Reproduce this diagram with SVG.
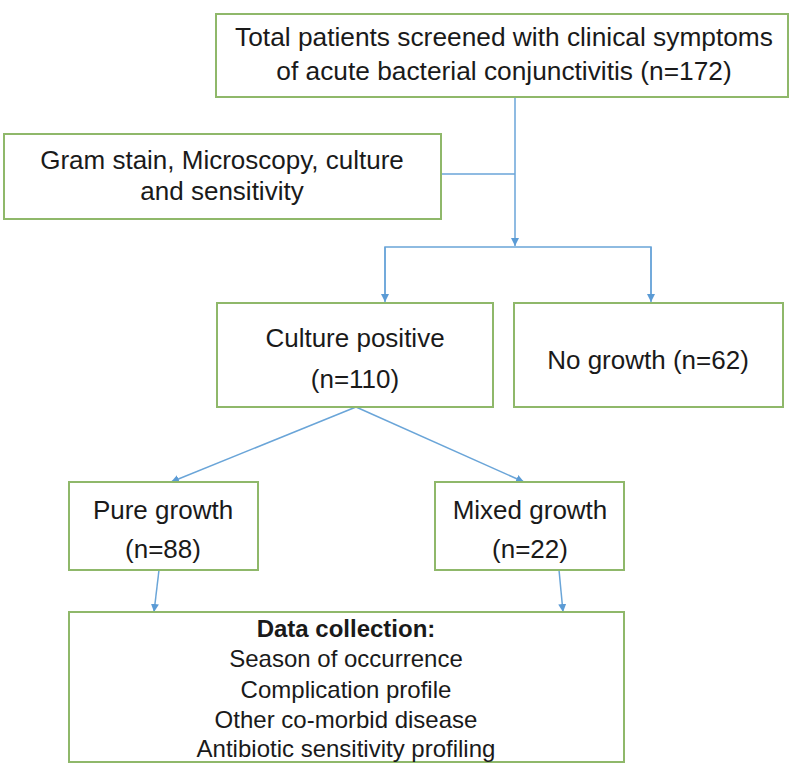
<svg xmlns="http://www.w3.org/2000/svg" width="800" height="776" viewBox="0 0 800 776">
<defs>
<style>
.box{fill:#fff;stroke:#8fb86a;stroke-width:2}
.t{font-family:"Liberation Sans",Arial,sans-serif;font-size:26px;fill:#1a1a1a;text-anchor:middle}
.s{font-family:"Liberation Sans",Arial,sans-serif;font-size:24px;fill:#1a1a1a;text-anchor:middle}
.b{font-weight:bold}
.ln{fill:none;stroke:#6aa5d8;stroke-width:1.5}
</style>
<marker id="ah" viewBox="0 0 10 10" refX="10" refY="5" markerWidth="8" markerHeight="8" orient="auto" markerUnits="userSpaceOnUse">
<path d="M0,0 L10,5 L0,10 z" fill="#5b9bd5"/>
</marker>
</defs>
<rect width="800" height="776" fill="#fff"/>
<g id="connectors">
<path class="ln" d="M515,97 V246" marker-end="url(#ah)"/>
<path class="ln" d="M441,174 H515"/>
<path class="ln" d="M385,300 V247 H651 V300"/>
<path class="ln" d="M385,247 V302" marker-end="url(#ah)"/>
<path class="ln" d="M651,247 V302" marker-end="url(#ah)"/>
<path class="ln" d="M356,407 L171,482" marker-end="url(#ah)"/>
<path class="ln" d="M356,407 L524,482" marker-end="url(#ah)"/>
<path class="ln" d="M159,570 L154,612" marker-end="url(#ah)"/>
<path class="ln" d="M559,570 L563,612" marker-end="url(#ah)"/>
</g>
<g id="n1">
<rect class="box" x="216" y="14" width="572" height="83"/>
<text class="t" x="504" y="46" style="font-size:26.3px">Total patients screened with clinical symptoms</text>
<text class="t" x="504" y="80" style="font-size:26.3px">of acute bacterial conjunctivitis (n=172)</text>
</g>
<g id="n2">
<rect class="box" x="4" y="134" width="437" height="85"/>
<text class="t" x="222" y="169">Gram stain, Microscopy, culture</text>
<text class="t" x="222" y="200">and sensitivity</text>
</g>
<g id="n3">
<rect class="box" x="217" y="303" width="276" height="104"/>
<text class="t" x="355" y="347">Culture positive</text>
<text class="t" x="355" y="388">(n=110)</text>
</g>
<g id="n4">
<rect class="box" x="514" y="303" width="269" height="104"/>
<text class="t" x="648" y="369">No growth (n=62)</text>
</g>
<g id="n5">
<rect class="box" x="69" y="482" width="189" height="88"/>
<text class="t" x="163" y="519">Pure growth</text>
<text class="t" x="163" y="558">(n=88)</text>
</g>
<g id="n6">
<rect class="box" x="435" y="482" width="189" height="88"/>
<text class="t" x="530" y="519">Mixed growth</text>
<text class="t" x="530" y="558">(n=22)</text>
</g>
<g id="n7">
<rect class="box" x="69" y="612" width="555" height="150"/>
<text class="s b" x="346" y="637">Data collection:</text>
<text class="s" x="346" y="667">Season of occurrence</text>
<text class="s" x="346" y="698">Complication profile</text>
<text class="s" x="346" y="728">Other co-morbid disease</text>
<text class="s" x="346" y="757">Antibiotic sensitivity profiling</text>
</g>
</svg>
